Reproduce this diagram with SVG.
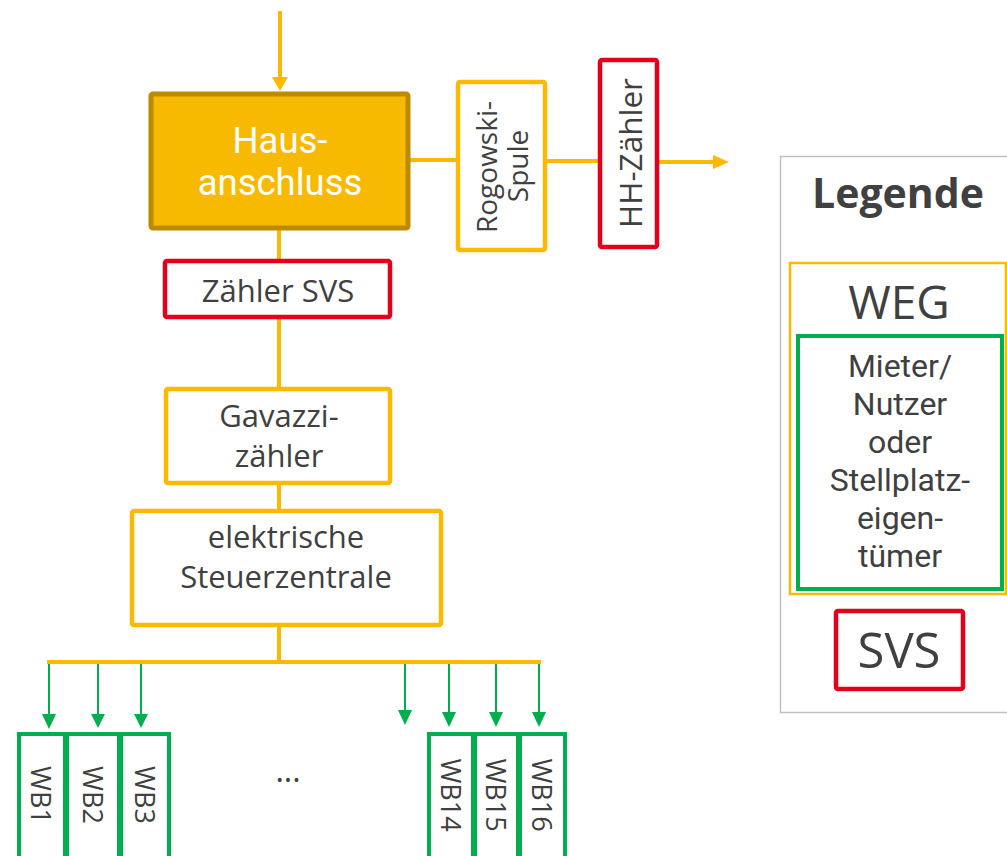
<svg xmlns="http://www.w3.org/2000/svg" width="1007" height="856" viewBox="0 0 1007 856">
<style>
text{font-family:"Open Sans","Noto Sans","Liberation Sans",sans-serif;fill:#404040;text-anchor:middle}
.y{fill:#fff;stroke:#FBBA00;stroke-width:4.5}
.r{fill:#fff;stroke:#E3001B;stroke-width:4.5}
.g{fill:#fff;stroke:#00AE4E;stroke-width:4}
.yl{stroke:#FBBA00;stroke-width:4;fill:none}
.gl{stroke:#00AE4E;stroke-width:2;fill:none}
.b{font-size:31px}
.wb{font-size:27px}
text.lg{font-family:Roboto,"Open Sans",sans-serif;font-size:32px}
text.h{font-family:Roboto,"Open Sans",sans-serif;font-size:36.5px;fill:#fff}
</style>
<rect width="1007" height="856" fill="#fff"/>
<g id="connectors">
<line class="yl" x1="280" y1="11" x2="280" y2="80" stroke-width="2"/>
<polygon points="272,77 288,77 280,91" fill="#FBBA00"/>
<line class="yl" x1="410" y1="160" x2="456" y2="160"/>
<line class="yl" x1="546" y1="161" x2="598" y2="161"/>
<line class="yl" x1="658" y1="162" x2="716" y2="162"/>
<polygon points="713,155 713,169 729,162" fill="#FBBA00"/>
<line class="yl" x1="279" y1="230" x2="279" y2="259"/>
<line class="yl" x1="279" y1="319" x2="279" y2="387"/>
<line class="yl" x1="279" y1="484" x2="279" y2="509"/>
<line class="yl" x1="279" y1="627" x2="279" y2="662"/>
<line class="yl" x1="47" y1="662" x2="541" y2="662"/>
<g class="gl">
<line x1="49" y1="664" x2="49" y2="716"/>
<line x1="98" y1="664" x2="98" y2="716"/>
<line x1="141" y1="664" x2="141" y2="716"/>
<line x1="405" y1="664" x2="405" y2="712"/>
<line x1="449" y1="664" x2="449" y2="714"/>
<line x1="496" y1="664" x2="496" y2="714"/>
<line x1="539" y1="664" x2="539" y2="714"/>
</g>
<g fill="#00AE4E">
<polygon points="42,714 56,714 49,729"/>
<polygon points="91,714 105,714 98,728"/>
<polygon points="134,714 148,714 141,728"/>
<polygon points="398,710 412,710 405,725"/>
<polygon points="442,712 456,712 449,727"/>
<polygon points="489,712 503,712 496,727"/>
<polygon points="532,712 546,712 539,727"/>
</g>
</g>
<g id="hausanschluss">
<rect x="151" y="94" width="257" height="134" rx="2" fill="#F8BA00" stroke="#BE8B00" stroke-width="5"/>
<text class="h" x="280" y="153">Haus-</text>
<text class="h" x="280" y="195">anschluss</text>
</g>
<g id="rogowski">
<rect class="y" x="458" y="82" width="87" height="168" rx="2"/>
<text transform="translate(497,167) rotate(-90)" font-size="28">Rogowski-</text>
<text transform="translate(528,166) rotate(-90)" font-size="28">Spule</text>
</g>
<g id="hh-zaehler">
<rect class="r" x="600" y="60" width="57" height="187" rx="2"/>
<text transform="translate(642,153) rotate(-90)" font-size="31.5">HH-Zähler</text>
</g>
<g id="zaehler-svs">
<rect class="r" x="165" y="261" width="225" height="56" rx="2"/>
<text class="b" x="278" y="302">Zähler SVS</text>
</g>
<g id="gavazzi">
<rect class="y" x="166" y="389" width="224" height="94" rx="2"/>
<text class="b" x="279" y="427">Gavazzi-</text>
<text class="b" x="279" y="467">zähler</text>
</g>
<g id="steuerzentrale">
<rect class="y" x="132" y="511" width="309" height="114" rx="2"/>
<text class="b" x="286" y="548">elektrische</text>
<text class="b" x="286" y="588">Steuerzentrale</text>
</g>
<g id="wb1"><rect class="g" x="19" y="734" width="46" height="140"/><text class="wb" transform="translate(31,795) rotate(90)">WB1</text></g>
<g id="wb2"><rect class="g" x="67" y="734" width="52" height="140"/><text class="wb" transform="translate(83,795) rotate(90)">WB2</text></g>
<g id="wb3"><rect class="g" x="121" y="734" width="48" height="140"/><text class="wb" transform="translate(135,795) rotate(90)">WB3</text></g>
<g id="dots"><text x="288" y="782" font-size="32">...</text></g>
<g id="wb14"><rect class="g" x="429" y="734" width="44" height="140"/><text class="wb" transform="translate(441,795) rotate(90)">WB14</text></g>
<g id="wb15"><rect class="g" x="475" y="734" width="43" height="140"/><text class="wb" transform="translate(486,795) rotate(90)">WB15</text></g>
<g id="wb16"><rect class="g" x="520" y="734" width="45" height="140"/><text class="wb" transform="translate(532,795) rotate(90)">WB16</text></g>
<g id="legende">
<rect x="780.5" y="156.5" width="240" height="556" fill="#fff" stroke="#BFBFBF" stroke-width="1.5"/>
<text x="898" y="208" font-size="41" font-weight="bold">Legende</text>
<rect x="790" y="263" width="216" height="331" fill="#fff" stroke="#FBBA00" stroke-width="2.5"/>
<text x="899" y="319" font-size="46">WEG</text>
<rect x="798" y="336" width="204" height="253" fill="#fff" stroke="#00AE4E" stroke-width="4"/>
<text class="lg" x="900" y="377">Mieter/</text>
<text class="lg" x="900" y="415">Nutzer</text>
<text class="lg" x="900" y="453">oder</text>
<text class="lg" x="900" y="491">Stellplatz-</text>
<text class="lg" x="900" y="529">eigen-</text>
<text class="lg" x="900" y="567">tümer</text>
<rect class="r" x="836" y="611" width="127" height="78" rx="2"/>
<text x="899" y="668" font-size="49">SVS</text>
</g>
</svg>
